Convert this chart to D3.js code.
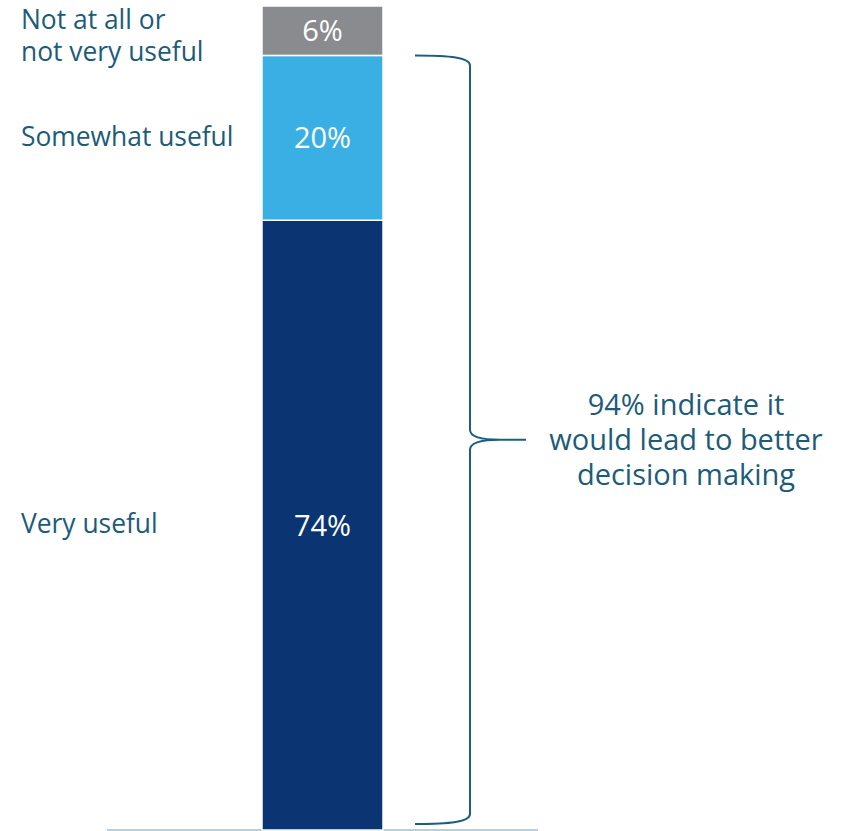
<!DOCTYPE html>
<html>
<head>
<meta charset="utf-8">
<script src="https://cdn.jsdelivr.net/npm/d3@7"></script>
<style>
  html, body { margin: 0; padding: 0; background: #fff; }
  svg { display: block; font-family: "Open Sans", sans-serif; }
</style>
</head>
<body>
<svg id="chart" width="841" height="831"></svg>
<script>
// Stacked single-bar survey result, bottom to top
const categories = ["Very useful", "Somewhat useful", "Not at all or not very useful"];
const categoryLines = [["Very useful"], ["Somewhat useful"], ["Not at all or", "not very useful"]];
const values = [74, 20, 6];
const valueLabels = ["74%", "20%", "6%"];
const colors = ["#0a3572", "#3aafe4", "#898b8f"];
const bracketShare = 94;
const bracketLines = ["94% indicate it", "would lead to better", "decision making"];

const svg = d3.select("#chart");
const textColor = "#1d5b7b";

const y = d3.scaleLinear().domain([0, 100]).range([830, 6]);
const x = d3.scaleBand().domain(["all"]).range([262, 383]).padding(0);

// cumulative stack
let acc = 0;
const stacked = values.map((v, i) => {
  const d = { key: categories[i], lines: categoryLines[i], label: valueLabels[i], color: colors[i], y0: acc, y1: acc + v };
  acc += v;
  return d;
});

// baseline
svg.append("line")
  .attr("x1", 107).attr("x2", 538)
  .attr("y1", y(0)).attr("y2", y(0))
  .attr("stroke", "#9fc2cf").attr("stroke-width", 1.5);

// segments
svg.selectAll("rect.seg").data(stacked).join("rect")
  .attr("class", "seg")
  .attr("x", x("all"))
  .attr("width", x.bandwidth())
  .attr("y", d => y(d.y1))
  .attr("height", d => y(d.y0) - y(d.y1))
  .attr("fill", d => d.color)
  .attr("stroke", "#fff")
  .attr("stroke-width", 1.5);

// value labels inside segments
svg.selectAll("text.val").data(stacked).join("text")
  .attr("class", "val")
  .attr("x", x("all") + x.bandwidth() / 2)
  .attr("y", d => (y(d.y0) + y(d.y1)) / 2 - 1)
  .attr("text-anchor", "middle")
  .attr("dominant-baseline", "central")
  .attr("fill", "#fff")
  .attr("font-size", 29)
  .text(d => d.label);

// category labels on the left
stacked.forEach(d => {
  const mid = (y(d.y0) + y(d.y1)) / 2;
  const n = d.lines.length;
  const lh = 32;
  const t = svg.append("text")
    .attr("x", 21)
    .attr("fill", textColor)
    .attr("font-size", 26.4);
  d.lines.forEach((ln, i) => {
    t.append("tspan")
      .attr("x", 21)
      .attr("y", mid + 6 + (n > 1 ? (i - (n - 1) / 2) * lh + 8 : 2))
      .text(ln);
  });
});

// curly bracket spanning the top-two-box share
const braceTop = y(bracketShare), braceBot = y(0) - 6;
const braceMid = (braceTop + braceBot) / 2;
const bx0 = 415, bx = 470, tip = 526;
const p = d3.path();
p.moveTo(bx0, braceTop);
p.bezierCurveTo(450, braceTop, bx, braceTop + 2, bx, braceTop + 10);
p.lineTo(bx, braceMid - 10);
p.bezierCurveTo(bx, braceMid - 3, 480, braceMid, 500, braceMid);
p.lineTo(tip, braceMid);
p.moveTo(500, braceMid);
p.bezierCurveTo(480, braceMid, bx, braceMid + 3, bx, braceMid + 10);
p.lineTo(bx, braceBot - 10);
p.bezierCurveTo(bx, braceBot - 2, 450, braceBot, bx0, braceBot);
svg.append("path")
  .attr("d", p.toString())
  .attr("fill", "none")
  .attr("stroke", "#1a5f80")
  .attr("stroke-width", 2);

// bracket annotation
const ann = svg.append("text")
  .attr("fill", textColor)
  .attr("font-size", 29)
  .attr("text-anchor", "middle");
bracketLines.forEach((ln, i) => {
  ann.append("tspan")
    .attr("x", 686)
    .attr("y", braceMid - 25 + i * 35)
    .text(ln);
});
</script>
</body>
</html>
